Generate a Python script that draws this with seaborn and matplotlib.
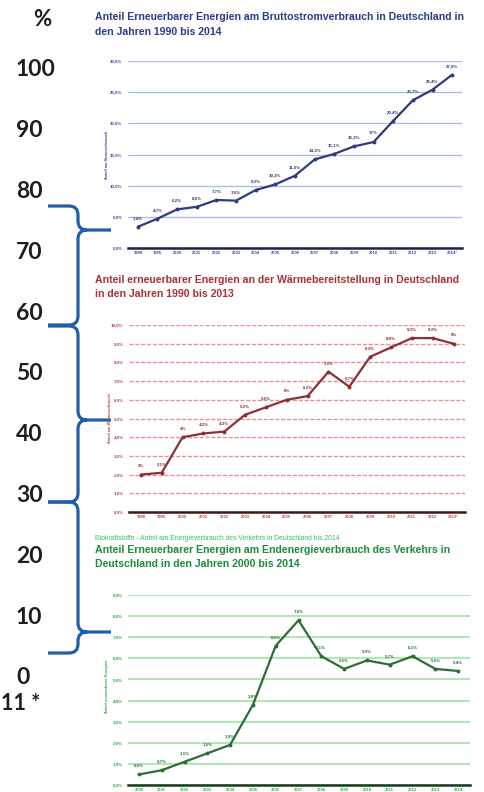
import matplotlib
matplotlib.use("Agg")
import matplotlib.pyplot as plt
from matplotlib.path import Path
from matplotlib.patches import PathPatch
import pandas as pd
import seaborn as sns

# ---- data -------------------------------------------------------------
strom_jahre = ["1990", "1995", "2000", "2001", "2002", "2003", "2004", "2005", "2006",
               "2007", "2008", "2009", "2010", "2011", "2012", "2013", "2014*"]
strom_anteil = [3.4, 4.7, 6.2, 6.6, 7.7, 7.6, 9.3, 10.2, 11.6,
                14.2, 15.1, 16.3, 17.0, 20.4, 23.7, 25.4, 27.8]

waerme_jahre = ["1990", "1995", "2000", "2001", "2002", "2003", "2004", "2005",
                "2006", "2007", "2008", "2009", "2010", "2011", "2012", "2013*"]
waerme_anteil = [2.0, 2.1, 4.0, 4.2, 4.3, 5.2, 5.6, 6.0,
                 6.2, 7.5, 6.7, 8.3, 8.8, 9.3, 9.3, 9.0]

verkehr_jahre = ["2000", "2001", "2002", "2003", "2004", "2005", "2006", "2007",
                 "2008", "2009", "2010", "2011", "2012", "2013", "2014"]
verkehr_anteil = [0.5, 0.7, 1.1, 1.5, 1.9, 3.8, 6.6, 7.8,
                  6.1, 5.5, 5.9, 5.7, 6.1, 5.5, 5.4]

skala_werte = [100, 90, 80, 70, 60, 50, 40, 30, 20, 10, 0]

# ---- figure -----------------------------------------------------------
sns.set_theme(style="white")
plt.rcParams["font.family"] = ["Liberation Sans", "DejaVu Sans"]

W, H = 484, 792
fig = plt.figure(figsize=(W / 100, H / 100), dpi=100)
fig.patch.set_facecolor("white")


def fx(x):
    return x / W


def fy(y):
    return 1 - y / H


def axes_px(left, top, right, bottom):
    return fig.add_axes([fx(left), fy(bottom), (right - left) / W, (bottom - top) / H])


def fmt_pct(v, decimals=True):
    if decimals:
        return f"{v:.1f}%".replace(".", ",")
    return f"{v:g}%".replace(".", ",")


def panel(ax, jahre, werte, ymax, ystep, xlim, line_c, grid_c, axis_c, tick_c,
          grid_ls="-", grid_lw=1.0):
    df = pd.DataFrame({"pos": range(len(jahre)), "wert": werte})
    sns.lineplot(data=df, x="pos", y="wert", ax=ax, color=line_c, linewidth=1.6,
                 marker="o", markersize=2.8, markeredgewidth=0, clip_on=False)
    ax.set_xlim(*xlim)
    ax.set_ylim(0, ymax)
    yt = [i * ystep for i in range(int(round(ymax / ystep)) + 1)]
    ax.set_yticks(yt)
    ax.set_yticklabels([fmt_pct(v) for v in yt])
    ax.set_xticks(range(len(jahre)))
    ax.set_xticklabels(jahre)
    ax.tick_params(axis="y", length=0, pad=4, labelsize=3.2, labelcolor=tick_c)
    ax.tick_params(axis="x", length=0, pad=2.5, labelsize=3.0, labelcolor=tick_c)
    for lab in ax.get_yticklabels() + ax.get_xticklabels():
        lab.set_fontweight("bold")
    ax.grid(axis="y", color=grid_c, linestyle=grid_ls, linewidth=grid_lw)
    ax.grid(axis="x", visible=False)
    ax.set_axisbelow(True)
    for s in ("top", "left", "right"):
        ax.spines[s].set_visible(False)
    ax.spines["bottom"].set_color(axis_c)
    ax.spines["bottom"].set_linewidth(1.8)
    ax.set_xlabel("")
    ax.set_ylabel("")
    ax.set_facecolor("none")
    for i, v in enumerate(werte):
        ax.annotate(fmt_pct(v, decimals=False) if v == int(v) else fmt_pct(v),
                    (i, v), xytext=(0, 4.8), textcoords="offset points",
                    ha="center", va="bottom", fontsize=3.2, fontweight="bold",
                    color=line_c, annotation_clip=False)


# Strom
fig.text(fx(95), fy(17), "Anteil Erneuerbarer Energien am Bruttostromverbrauch in Deutschland in",
         fontsize=7.55, fontweight="bold", color="#2e3a8c", va="center", ha="left")
fig.text(fx(95), fy(32), "den Jahren 1990 bis 2014",
         fontsize=7.55, fontweight="bold", color="#2e3a8c", va="center", ha="left")
ax1 = axes_px(128, 61, 462, 248)
panel(ax1, strom_jahre, strom_anteil, 30, 5, (-0.5, 16.5),
      "#2f3b7a", "#a9bdea", "#1b2350", "#3a4a9a")
fig.text(fx(107), fy(155), "Anteil am Stromverbrauch", rotation=90, fontsize=2.8,
         color="#3a4a9a", ha="center", va="center", fontweight="bold")

# Wärme
fig.text(fx(95), fy(280), "Anteil erneuerbarer Energien an der Wärmebereitstellung in Deutschland",
         fontsize=7.55, fontweight="bold", color="#a93237", va="center", ha="left")
fig.text(fx(95), fy(294), "in den Jahren 1990 bis 2013",
         fontsize=7.55, fontweight="bold", color="#a93237", va="center", ha="left")
ax2 = axes_px(129, 325, 465, 512)
panel(ax2, waerme_jahre, waerme_anteil, 10, 1, (-0.57, 15.55),
      "#8e2f35", "#eb8f8f", "#3b1c1c", "#b8454a", grid_ls=(0, (3, 1.2)), grid_lw=1.0)
fig.text(fx(110), fy(418), "Anteil am Wärmeverbrauch", rotation=90, fontsize=2.8,
         color="#b8454a", ha="center", va="center", fontweight="bold")

# Verkehr
fig.text(fx(95), fy(538), "Biokraftstoffe - Anteil am Energieverbrauch des Verkehrs in Deutschland bis 2014",
         fontsize=4.9, color="#37c05a", va="center", ha="left")
fig.text(fx(95), fy(550), "Anteil Erneuerbarer Energien am Endenergieverbrauch des Verkehrs in",
         fontsize=7.6, fontweight="bold", color="#1f8a3b", va="center", ha="left")
fig.text(fx(95), fy(564), "Deutschland in den Jahren 2000 bis 2014",
         fontsize=7.6, fontweight="bold", color="#1f8a3b", va="center", ha="left")
ax3 = axes_px(128, 595, 470, 785)
panel(ax3, verkehr_jahre, verkehr_anteil, 9, 1, (-0.48, 14.52),
      "#2e6d35", "#9fe5a6", "#1c3a1f", "#2ea84a", grid_lw=1.2)
fig.text(fx(107), fy(686), "Anteil erneuerbarer Energien", rotation=90, fontsize=2.8,
         color="#2ea84a", ha="center", va="center", fontweight="bold")

# ---- percentage scale on the left -------------------------------------
scale_font = ["Lato", "DejaVu Sans"]
fig.text(fx(33), fy(20), "%", fontsize=16, fontweight="bold", color="#1e1e1e",
         ha="left", va="center", family=scale_font)
for v in skala_werte:
    fig.text(fx(16), fy(678 - v * 6.08), str(v), fontsize=16.5, fontweight="bold",
             color="#1e1e1e", ha="left", va="center", family=scale_font)
fig.text(fx(1), fy(703), "11 *", fontsize=15.5, fontweight="bold", color="#1e1e1e",
         ha="left", va="center", family=scale_font)


# ---- curly braces ------------------------------------------------------
def brace(ytop, ytip, ybot, x0=48, xv=78, xt=111, r=9):
    verts = [
        (x0, ytop), (xv - r, ytop), (xv, ytop), (xv, ytop + r),
        (xv, ytip - r), (xv, ytip), (xv + r, ytip), (xt, ytip),
        (xv + r, ytip), (xv, ytip), (xv, ytip + r),
        (xv, ybot - r), (xv, ybot), (xv - r, ybot), (x0, ybot),
    ]
    codes = [
        Path.MOVETO, Path.LINETO, Path.CURVE3, Path.CURVE3,
        Path.LINETO, Path.CURVE3, Path.CURVE3, Path.LINETO,
        Path.MOVETO, Path.CURVE3, Path.CURVE3,
        Path.LINETO, Path.CURVE3, Path.CURVE3, Path.LINETO,
    ]
    pts = [(fx(x), fy(y)) for x, y in verts]
    patch = PathPatch(Path(pts, codes), transform=fig.transFigure, fill=False,
                      edgecolor="#1f5ea8", linewidth=2.3, capstyle="butt",
                      joinstyle="round")
    fig.add_artist(patch)


brace(206, 230, 325)
brace(326, 420, 502)
brace(502, 632, 653)

fig.savefig("out.png", dpi=100)
